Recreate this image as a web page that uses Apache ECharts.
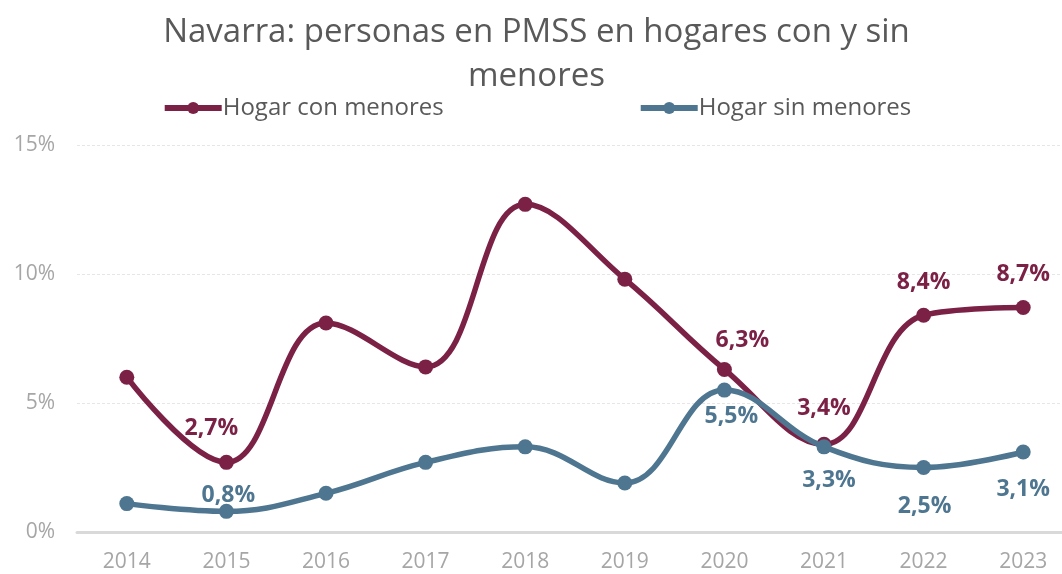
<!DOCTYPE html>
<html>
<head>
<meta charset="utf-8">
<script src="https://cdn.jsdelivr.net/npm/echarts@6/dist/echarts.min.js"></script>
<style>
  html, body { margin: 0; padding: 0; background: #fff; overflow: hidden; }
  #chart { width: 1073px; height: 574px; }
</style>
</head>
<body>
<div id="chart"></div>
<script>
// datos (%)
var years = ["2014", "2015", "2016", "2017", "2018", "2019", "2020", "2021", "2022", "2023"];
var conMenores = [6.0, 2.7, 8.1, 6.4, 12.7, 9.8, 6.3, 3.4, 8.4, 8.7];
var sinMenores = [1.1, 0.8, 1.5, 2.7, 3.3, 1.9, 5.5, 3.3, 2.5, 3.1];

var colorCon = "#7C2146";
var colorSin = "#4E7690";
var titleFont = '"Open Sans", "Noto Sans", sans-serif';
var labelFont = '"Open Sans", "Noto Sans", sans-serif';

// qué puntos llevan etiqueta y dónde (índice -> ajuste)
var conLabelPos = {
  1: { position: "top", offset: [-15, -5] },
  6: { position: "top", offset: [18, 0] },
  7: { position: "top", offset: [0, -7] },
  8: { position: "top", offset: [0, -4] },
  9: { position: "top", offset: [0, -4] }
};
var sinLabelPos = {
  1: { position: "top", offset: [2, 13] },
  6: { position: "bottom", offset: [7, -3] },
  7: { position: "bottom", offset: [5, 5] },
  8: { position: "bottom", offset: [1, 10] },
  9: { position: "bottom", offset: [0, 8] }
};

function fmt(v) {
  return v.toFixed(1).replace(".", ",") + "%";
}

function buildData(values, labelPos, color) {
  return values.map(function (v, i) {
    var item = { value: v };
    if (labelPos[i]) {
      item.label = {
        show: true,
        position: labelPos[i].position,
        offset: labelPos[i].offset,
        distance: 10,
        formatter: function (p) { return fmt(p.value); },
        color: color,
        fontSize: 23,
        fontWeight: "bold",
        fontFamily: labelFont
      };
    }
    return item;
  });
}

var myChart = echarts.init(document.getElementById("chart"));

var option = {
  backgroundColor: "#fff",
  animation: false,
  title: {
    text: "Navarra: personas en PMSS en hogares con y sin\nmenores",
    left: "center",
    top: 6,
    textStyle: {
      fontFamily: titleFont,
      fontSize: 33,
      fontWeight: "normal",
      color: "#595959",
      lineHeight: 44
    }
  },
  legend: {
    top: 91,
    left: "center",
    itemGap: 194,
    itemWidth: 57,
    itemHeight: 15,
    lineStyle: { width: 6 },
    textStyle: {
      fontFamily: titleFont,
      fontSize: 24,
      color: "#595959",
      padding: [0, 0, 0, -4]
    },
    data: ["Hogar con menores", "Hogar sin menores"]
  },
  grid: {
    left: 77,
    right: 0,
    top: 145,
    bottom: 42
  },
  xAxis: {
    type: "category",
    data: years,
    boundaryGap: true,
    axisLine: { lineStyle: { color: "#D9D9D9", width: 3 } },
    axisTick: { show: false },
    axisLabel: {
      color: "#A6A6A6",
      fontSize: 21,
      fontFamily: labelFont,
      margin: 20
    }
  },
  yAxis: {
    type: "value",
    min: 0,
    max: 15,
    interval: 5,
    axisLine: { show: false },
    axisTick: { show: false },
    axisLabel: {
      formatter: "{value}%",
      color: "#A6A6A6",
      fontSize: 21,
      fontFamily: labelFont,
      margin: 22
    },
    splitLine: {
      lineStyle: { color: "#E6E6E6", type: [3, 2], width: 1 }
    }
  },
  series: [
    {
      name: "Hogar con menores",
      type: "line",
      smooth: 0.4,
      data: buildData(conMenores, conLabelPos, colorCon),
      symbol: "circle",
      symbolSize: 15,
      itemStyle: { color: colorCon },
      lineStyle: { color: colorCon, width: 5.5 },
      z: 2
    },
    {
      name: "Hogar sin menores",
      type: "line",
      smooth: 0.4,
      data: buildData(sinMenores, sinLabelPos, colorSin),
      symbol: "circle",
      symbolSize: 15,
      itemStyle: { color: colorSin },
      lineStyle: { color: colorSin, width: 5.5 },
      z: 3
    }
  ]
};

myChart.setOption(option);
</script>
</body>
</html>
